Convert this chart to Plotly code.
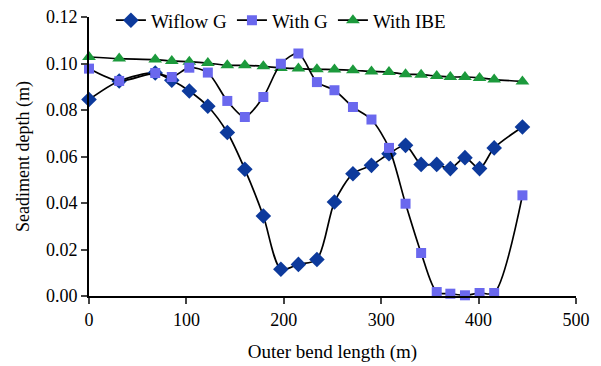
import plotly.graph_objects as go

x_pos = [0, 31, 68, 85, 103, 122, 142, 160, 179, 197, 215, 234, 252, 271, 290, 308,
         325, 341, 357, 371, 386, 401, 416, 445]

wiflow_g = [0.0845, 0.0925, 0.0959, 0.0928, 0.0882, 0.0816, 0.0703, 0.0545, 0.0344,
            0.0115, 0.0136, 0.0157, 0.0404, 0.0526, 0.0562, 0.0612, 0.0648, 0.0566,
            0.0566, 0.0548, 0.0595, 0.0548, 0.0637, 0.0727]

with_g = [0.0978, 0.0925, 0.0959, 0.0942, 0.0982, 0.0961, 0.0839, 0.0770, 0.0856,
          0.0999, 0.1043, 0.0920, 0.0885, 0.0813, 0.0759, 0.0637, 0.0397, 0.0185,
          0.0017, 0.0010, 0.0003, 0.0013, 0.0013, 0.0433]

with_ibe = [0.1028, 0.1021, 0.1017, 0.1011, 0.1008, 0.1002, 0.0992, 0.0992, 0.0988,
            0.0981, 0.0978, 0.0975, 0.0974, 0.0971, 0.0966, 0.0963, 0.0954, 0.0952,
            0.0946, 0.0942, 0.0942, 0.0938, 0.0931, 0.0923]

x_ticks = [0, 100, 200, 300, 400, 500]
y_ticks = [0.00, 0.02, 0.04, 0.06, 0.08, 0.10, 0.12]
y_tick_labels = ["0.00", "0.02", "0.04", "0.06", "0.08", "0.10", "0.12"]

FONT = "Liberation Serif, DejaVu Serif, Times New Roman, serif"

fig = go.Figure()

line_style = dict(color="black", width=1.7, shape="spline", smoothing=0.8)

fig.add_trace(go.Scatter(
    x=x_pos, y=wiflow_g, name="Wiflow G", mode="lines+markers",
    line=line_style, cliponaxis=False, legendrank=1,
    marker=dict(symbol="diamond", size=12, color="#0d3a9c"),
))
fig.add_trace(go.Scatter(
    x=x_pos, y=with_ibe, name="With IBE", mode="lines+markers",
    line=line_style, cliponaxis=False, legendrank=3,
    marker=dict(symbol="triangle-up", size=12, color="#1c9a3c"),
))
fig.add_trace(go.Scatter(
    x=x_pos, y=with_g, name="With G", mode="lines+markers",
    line=line_style, cliponaxis=False, legendrank=2,
    marker=dict(symbol="square", size=10, color="#6a68ee"),
))

fig.update_layout(
    width=601, height=366,
    margin=dict(l=89, r=25, t=17, b=70, autoexpand=False),
    paper_bgcolor="white", plot_bgcolor="white",
    font=dict(family=FONT, size=18, color="black"),
    legend=dict(
        orientation="h", x=0.045, y=0.988, xanchor="left", yanchor="middle",
        bgcolor="rgba(0,0,0,0)", font=dict(family=FONT, size=19), itemwidth=30,
        traceorder="normal",
    ),
    showlegend=True,
)

fig.update_xaxes(
    range=[0, 500], tickvals=x_ticks, ticks="outside", ticklen=6, tickwidth=2,
    showline=True, linecolor="black", linewidth=2, showgrid=False, zeroline=False,
    title=dict(text="Outer bend length (m)", standoff=16, font=dict(family=FONT, size=19)),
    tickfont=dict(family=FONT, size=18),
)
fig.update_yaxes(
    range=[0, 0.12], tickvals=y_ticks, ticktext=y_tick_labels, ticks="outside",
    ticklen=6, tickwidth=2,
    showline=True, linecolor="black", linewidth=2, showgrid=False, zeroline=False,
    title=dict(text="Seadiment depth (m)", standoff=12, font=dict(family=FONT, size=18)),
    tickfont=dict(family=FONT, size=18),
)

fig.write_html(
    "out.html",
    config={"displayModeBar": False},
    post_script="document.body.style.margin='0';document.body.style.padding='0';",
)
